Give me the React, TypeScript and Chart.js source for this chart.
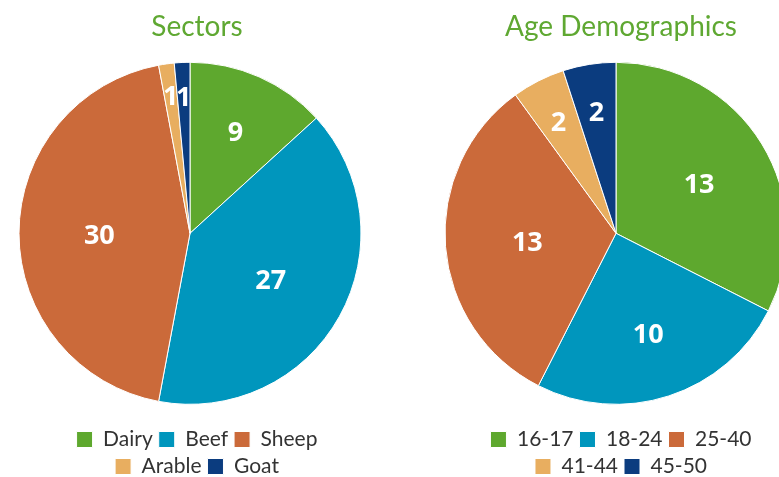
import React, { useEffect, useRef } from 'react';
import { Chart, registerables } from 'chart.js';

Chart.register(...registerables);

const sectorTitle = 'Sectors';
const sectorLabels = ['Dairy', 'Beef', 'Sheep', 'Arable', 'Goat'];
const sectorValues = [9, 27, 30, 1, 1];

const ageTitle = 'Age Demographics';
const ageLabels = ['16-17', '18-24', '25-40', '41-44', '45-50'];
const ageValues = [13, 10, 13, 2, 2];

const sliceColors = ['#5ea82e', '#0096bd', '#cb6a3a', '#e8ae60', '#0b3c7f'];
const titleColor = '#5fa832';
const legendTextColor = '#333333';

const sliceLabelPlugin = {
  id: 'sliceLabels',
  afterLayout(chart: any, _args: any, opts: any) {
    const s = opts.shift || 0;
    chart.chartArea.left -= s;
    chart.chartArea.right -= s;
  },
  afterDatasetsDraw(chart: any, _args: any, opts: any) {
    const meta = chart.getDatasetMeta(0);
    const ds = chart.data.datasets[0];
    const ctx = chart.ctx;
    ctx.save();
    ctx.fillStyle = '#ffffff';
    ctx.font = 'bold 27px "Open Sans"';
    ctx.textAlign = 'center';
    ctx.textBaseline = 'middle';
    meta.data.forEach((arc: any, i: number) => {
      const p = arc.getProps(['x', 'y', 'startAngle', 'endAngle', 'outerRadius'], true);
      const mid = (p.startAngle + p.endAngle) / 2;
      const r = p.outerRadius * (opts.radii ? opts.radii[i] : 0.6);
      ctx.fillText(String(ds.data[i]), p.x + Math.cos(mid) * r, p.y + Math.sin(mid) * r + 3);
    });
    ctx.restore();
  },
};

function PieChart(props: {
  title: string;
  labels: string[];
  values: number[];
  radii: number[];
  shift: number;
  left: number;
}) {
  const ref = useRef<HTMLCanvasElement>(null);
  useEffect(() => {
    if (!ref.current) return;
    const chart = new Chart(ref.current, {
      type: 'pie',
      data: {
        labels: props.labels,
        datasets: [
          {
            data: props.values,
            backgroundColor: sliceColors,
            borderColor: '#ffffff',
            borderWidth: 1,
            radius: 171,
            clip: false,
          } as any,
        ],
      },
      options: {
        responsive: false,
        animation: false,
        devicePixelRatio: 1,
        layout: { padding: { left: 30, right: 30, top: 0, bottom: 0 } },
        plugins: {
          title: {
            display: true,
            text: props.title,
            color: titleColor,
            font: { family: 'Lato', size: 28, weight: 'normal' },
            padding: { top: 10, bottom: 0 },
          },
          legend: {
            display: true,
            position: 'bottom',
            labels: {
              color: legendTextColor,
              font: { family: 'Lato', size: 21 },
              boxWidth: 16,
              boxHeight: 16,
              padding: 6,
            },
          },
          tooltip: { enabled: false },
          sliceLabels: { radii: props.radii, shift: props.shift },
        } as any,
      },
      plugins: [sliceLabelPlugin],
    });
    return () => chart.destroy();
  }, []);
  return (
    <canvas
      ref={ref}
      width={360}
      height={487}
      style={{ position: 'absolute', left: props.left, top: 0, width: 360, height: 487, display: 'block' }}
    />
  );
}

export default function App() {
  return (
    <div
      style={{
        position: 'fixed',
        left: 0,
        top: 0,
        width: 779,
        height: 477,
        overflow: 'hidden',
        background: '#ffffff',
      }}
    >
      <PieChart
        title={sectorTitle}
        labels={sectorLabels}
        values={sectorValues}
        radii={[0.66, 0.54, 0.53, 0.82, 0.81]}
        shift={7}
        left={17}
      />
      <PieChart
        title={ageTitle}
        labels={ageLabels}
        values={ageValues}
        radii={[0.57, 0.61, 0.52, 0.74, 0.73]}
        shift={5}
        left={441}
      />
    </div>
  );
}
